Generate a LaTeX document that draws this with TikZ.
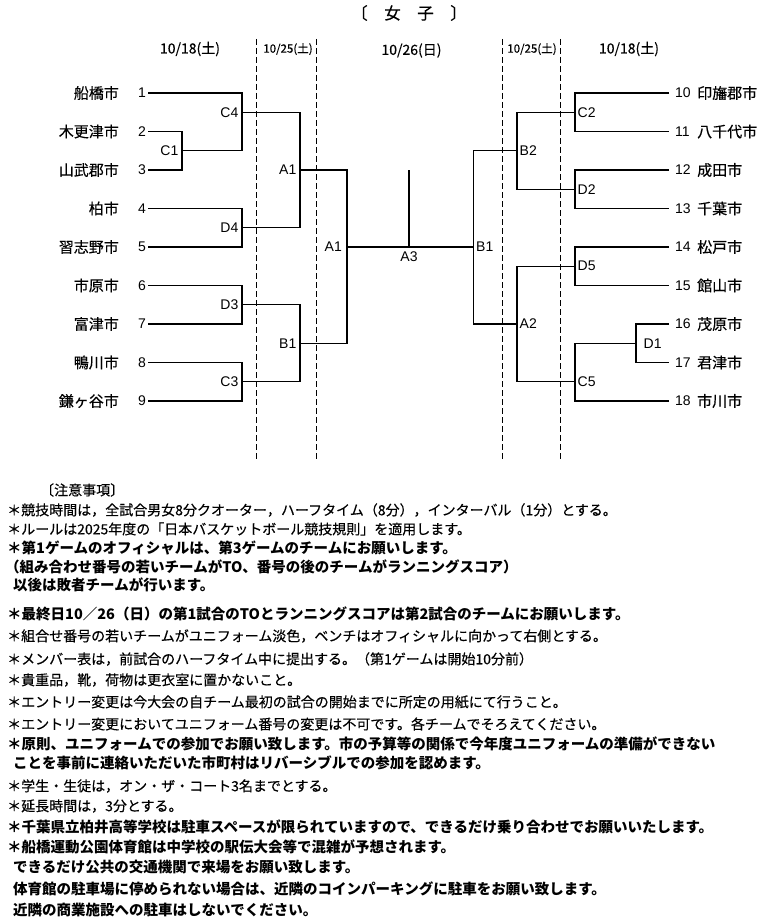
\documentclass[tikz,border=0pt]{standalone}
\usepackage{fontspec}
\setmainfont{Noto Sans CJK JP}
\newfontfamily\jpm[FakeBold=0.35]{Noto Sans CJK JP}
\newfontfamily\lat{Liberation Sans}
\tikzset{
  br/.style={line width=1.1pt},
  dsh/.style={line width=1pt, dash pattern=on 6pt off 3pt},
  team/.style={inner sep=0pt, font=\jpm\fontsize{15}{15}\selectfont},
  num/.style={inner sep=0pt, font=\lat\fontsize{14}{14}\selectfont},
  lblL/.style={num, anchor=east, xshift=-3.5pt},
  lblR/.style={num, anchor=west, xshift=2.5pt},
  note/.style={anchor=west, inner sep=0pt, font=\jpm\fontsize{14}{14}\selectfont},
  noteb/.style={anchor=west, inner sep=0pt, font=\bfseries\fontsize{14.5}{14.5}\selectfont},
  datel/.style={inner sep=0pt, font=\jpm\fontsize{14}{14}\selectfont},
  dates/.style={inner sep=0pt, font=\jpm\fontsize{11.5}{11.5}\selectfont},
}
\begin{document}
\begin{tikzpicture}[x=1pt,y=-1pt]
\useasboundingbox (0,0) rectangle (764,923);
% title
\node[inner sep=0pt, font=\jpm\fontsize{16.5}{16.5}\selectfont] (title) at (409,13) {〔\hspace{1em}女\hspace{1em}子\hspace{1em}〕};
% dates
\node[datel] (dL1) at (190,49) {10/18(土)};
\node[dates] (dL2) at (288,49) {10/25(土)};
\node[datel] (dC) at (411.5,50.5) {10/26(日)};
\node[dates] (dR2) at (532,49) {10/25(土)};
\node[datel] (dR1) at (629,49) {10/18(土)};
% dashed separators
\coordinate (s1t) at (256.7,39); \coordinate (s1b) at (256.7,459);
\coordinate (s2t) at (316.3,39); \coordinate (s2b) at (316.3,459);
\coordinate (s3t) at (502.3,39); \coordinate (s3b) at (502.3,459);
\coordinate (s4t) at (560.7,39); \coordinate (s4b) at (560.7,459);
\draw[dsh] (s1t) -- (s1b);
\draw[dsh] (s2t) -- (s2b);
\draw[dsh] (s3t) -- (s3b);
\draw[dsh] (s4t) -- (s4b);
% teams left
\foreach \i/\nm in {1/船橋市,2/木更津市,3/山武郡市,4/柏市,5/習志野市,6/市原市,7/富津市,8/鴨川市,9/鎌ヶ谷市}{
  \coordinate (tL\i) at (148,{93+(\i-1)*38.5});
  \node[team,anchor=east] (nmL\i) at (119,{93+(\i-1)*38.5}) {\nm};
  \node[num] (noL\i) at (142,{93+(\i-1)*38.5}) {\i};
}
% teams right
\foreach \i/\nm in {10/印旛郡市,11/八千代市,12/成田市,13/千葉市,14/松戸市,15/館山市,16/茂原市,17/君津市,18/市川市}{
  \coordinate (tR\i) at (669,{93+(\i-10)*38.5});
  \node[num,anchor=west] (noR\i) at (675,{93+(\i-10)*38.5}) {\i};
  \node[team,anchor=west] (nmR\i) at (697,{93+(\i-10)*38.5}) {\nm};
}
% match points
\coordinate (c1) at (182,150.75);
\coordinate (c4) at (242,112.25);
\coordinate (d4) at (242,227.75);
\coordinate (d3) at (242,304.75);
\coordinate (c3) at (242,381.75);
\coordinate (a1L) at (300,170);
\coordinate (b1L) at (300,343.25);
\coordinate (a1F) at (347,247);
\coordinate (a3t) at (409,170);
\coordinate (a3) at (409,247);
\coordinate (b1R) at (473.5,247);
\coordinate (b2R) at (517,150.75);
\coordinate (a2R) at (517,324);
\coordinate (c2) at (575,112.25);
\coordinate (d2) at (575,189.25);
\coordinate (d5) at (575,266.25);
\coordinate (c5) at (575,381.75);
\coordinate (d1) at (636,343.25);
% left bracket
\draw[br] (tL2) -| (c1) |- (tL3);
\draw[br] (tL1) -| (c4); \draw[br] (c1) -| (c4);
\draw[br] (tL4) -| (d4) |- (tL5);
\draw[br] (tL6) -| (d3) |- (tL7);
\draw[br] (tL8) -| (c3) |- (tL9);
\draw[br] (c4) -| (a1L); \draw[br] (d4) -| (a1L);
\draw[br] (d3) -| (b1L); \draw[br] (c3) -| (b1L);
\draw[br] (a1L) -| (a1F); \draw[br] (b1L) -| (a1F);
% final
\draw[br] (a1F) -- (b1R);
\draw[br] (a3t) -- (a3);
% right bracket
\draw[br] (tR10) -| (c2) |- (tR11);
\draw[br] (tR12) -| (d2) |- (tR13);
\draw[br] (tR14) -| (d5) |- (tR15);
\draw[br] (tR16) -| (d1) |- (tR17);
\draw[br] (d1) -| (c5); \draw[br] (tR18) -| (c5);
\draw[br] (c2) -| (b2R); \draw[br] (d2) -| (b2R);
\draw[br] (d5) -| (a2R); \draw[br] (c5) -| (a2R);
\draw[br] (b2R) -| (b1R); \draw[br] (a2R) -| (b1R);
% labels
\node[lblL] (lc1) at (c1) {C1};
\node[lblL] (lc4) at (c4) {C4};
\node[lblL] (ld4) at (d4) {D4};
\node[lblL] (ld3) at (d3) {D3};
\node[lblL] (lc3) at (c3) {C3};
\node[lblL] (la1) at (a1L) {A1};
\node[lblL] (lb1) at (b1L) {B1};
\node[lblL,xshift=-1.5pt] (la1f) at (a1F) {A1};
\node[num,anchor=north] (la3) at (409,251.5) {A3};
\node[lblR] (lb1r) at (b1R) {B1};
\node[lblR] (lb2) at (b2R) {B2};
\node[lblR] (la2) at (a2R) {A2};
\node[lblR] (lc2) at (c2) {C2};
\node[lblR] (ld2) at (d2) {D2};
\node[lblR] (ld5) at (d5) {D5};
\node[lblR] (lc5) at (c5) {C5};
\node[lblR,xshift=5pt] (ld1) at (d1) {D1};
% notes
\node[note] (n0) at (40,490) {〔注意事項〕};
\node[note] (n1) at (7,510) {＊競技時間は，全試合男女8分クオーター，ハーフタイム（8分），インターバル（1分）とする。};
\node[note] (n2) at (7,529) {＊ルールは2025年度の「日本バスケットボール競技規則」を適用します。};
\node[noteb] (n3) at (7,548) {＊第1ゲームのオフィシャルは、第3ゲームのチームにお願いします。};
\node[noteb] (n4) at (5,567) {（組み合わせ番号の若いチームがTO、番号の後のチームがランニングスコア）};
\node[noteb] (n5) at (13,585) {以後は敗者チームが行います。};
\node[noteb] (n6) at (7,614) {＊最終日10／26（日）の第1試合のTOとランニングスコアは第2試合のチームにお願いします。};
\node[note] (n7) at (7,636) {＊組合せ番号の若いチームがユニフォーム淡色，ベンチはオフィシャルに向かって右側とする。};
\node[note] (n8) at (7,659) {＊メンバー表は，前試合のハーフタイム中に提出する。（第1ゲームは開始10分前）};
\node[note] (n9) at (7,680) {＊貴重品，靴，荷物は更衣室に置かないこと。};
\node[note] (n10) at (7,702) {＊エントリー変更は今大会の自チーム最初の試合の開始までに所定の用紙にて行うこと。};
\node[note] (n11) at (7,724) {＊エントリー変更においてユニフォーム番号の変更は不可です。各チームでそろえてください。};
\node[noteb] (n12) at (7,744) {＊原則、ユニフォームでの参加でお願い致します。市の予算等の関係で今年度ユニフォームの準備ができない};
\node[noteb] (n13) at (13,763) {ことを事前に連絡いただいた市町村はリバーシブルでの参加を認めます。};
\node[note] (n14) at (7,786) {＊学生・生徒は，オン・ザ・コート3名までとする。};
\node[note] (n15) at (7,806) {＊延長時間は，3分とする。};
\node[noteb] (n16) at (7,827) {＊千葉県立柏井高等学校は駐車スペースが限られていますので、できるだけ乗り合わせでお願いいたします。};
\node[noteb] (n17) at (7,847) {＊船橋運動公園体育館は中学校の駅伝大会等で混雑が予想されます。};
\node[noteb] (n18) at (13,867) {できるだけ公共の交通機関で来場をお願い致します。};
\node[noteb] (n19) at (13,889) {体育館の駐車場に停められない場合は、近隣のコインパーキングに駐車をお願い致します。};
\node[noteb] (n20) at (13,910) {近隣の商業施設への駐車はしないでください。};
\end{tikzpicture}
\end{document}
